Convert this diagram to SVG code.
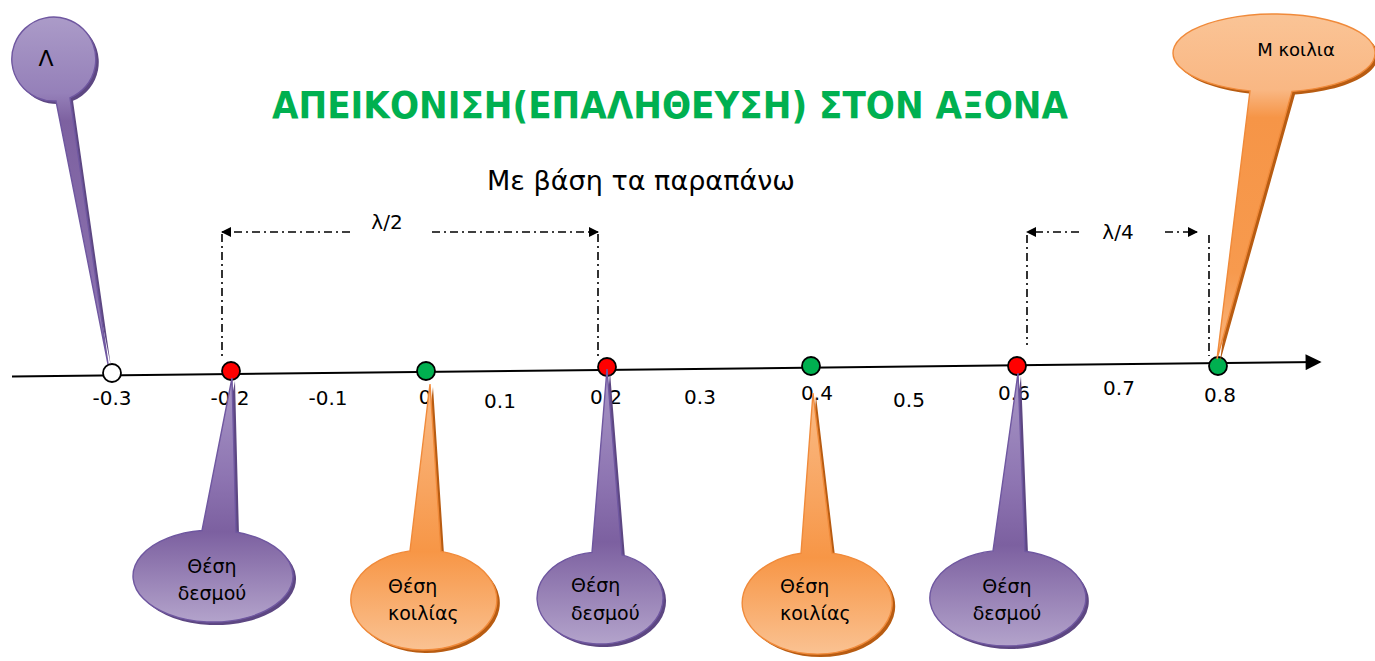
<svg xmlns="http://www.w3.org/2000/svg" width="1375" height="661" viewBox="0 0 1375 661">
<defs>
<style>
text{font-family:"DejaVu Sans","Liberation Sans",sans-serif;fill:#000}
.num{font-size:20px;text-anchor:middle}
.lbl{font-size:19px}
.mid{text-anchor:middle}
.dim{fill:none;stroke:#000;stroke-width:1.6;stroke-dasharray:8 4 2 4}
.axis{fill:none;stroke:#000;stroke-width:2}
.dot{stroke:#000;stroke-width:1.8}
.pshadow{fill:#5d4782}
.oshadow{fill:#b85c12}
.pur{fill:url(#gPur);stroke:#6f57a0;stroke-width:1.4}
.ora{fill:url(#gOra);stroke:#f08a3a;stroke-width:1.4}
</style>
<linearGradient id="gPur" x1="0" y1="0" x2="0" y2="1">
<stop offset="0" stop-color="#a897c6"/>
<stop offset="0.4" stop-color="#8e75b2"/>
<stop offset="0.63" stop-color="#7c60a0"/>
<stop offset="1" stop-color="#b3a3cb"/>
</linearGradient>
<linearGradient id="gOra" x1="0" y1="0" x2="0" y2="1">
<stop offset="0" stop-color="#fabb86"/>
<stop offset="0.4" stop-color="#f8a45f"/>
<stop offset="0.63" stop-color="#f79646"/>
<stop offset="1" stop-color="#fac292"/>
</linearGradient>
<linearGradient id="gLam" x1="0" y1="0" x2="0" y2="1">
<stop offset="0" stop-color="#ab9bc8"/>
<stop offset="0.22" stop-color="#9580b9"/>
<stop offset="0.3" stop-color="#7d61a0"/>
<stop offset="0.8" stop-color="#8a70ae"/>
<stop offset="1" stop-color="#b0a0c9"/>
</linearGradient>
<linearGradient id="gM" x1="0" y1="0" x2="0" y2="1">
<stop offset="0" stop-color="#fac496"/>
<stop offset="0.22" stop-color="#f9b783"/>
<stop offset="0.3" stop-color="#f69547"/>
<stop offset="0.75" stop-color="#f79a4e"/>
<stop offset="1" stop-color="#fab882"/>
</linearGradient>
<marker id="ah" viewBox="0 0 10 10" refX="9" refY="5" markerWidth="10" markerHeight="10" markerUnits="userSpaceOnUse" orient="auto-start-reverse">
<path d="M0,0 L10,5 L0,10 Z" fill="#000"/>
</marker>
<marker id="axh" viewBox="0 0 10 10" refX="9" refY="5" markerWidth="18" markerHeight="16" markerUnits="userSpaceOnUse" orient="auto">
<path d="M0,0 L10,5 L0,10 Z" fill="#000"/>
</marker>
</defs>

<g id="title">
<text x="670" y="118" font-size="38" font-weight="bold" style="fill:#00b050" text-anchor="middle" textLength="796" lengthAdjust="spacingAndGlyphs">ΑΠΕΙΚΟΝΙΣΗ(ΕΠΑΛΗΘΕΥΣΗ) ΣΤΟΝ ΑΞΟΝΑ</text>
<text x="641" y="190" font-size="26" text-anchor="middle" textLength="308" lengthAdjust="spacingAndGlyphs">Με βάση τα παραπάνω</text>
</g>

<g id="connectors">
<line class="axis" x1="12" y1="376.5" x2="1320" y2="362" marker-end="url(#axh)"/>
<line class="dim" x1="350" y1="232" x2="222" y2="232" marker-end="url(#ah)"/>
<line class="dim" x1="432" y1="232" x2="598" y2="232" marker-end="url(#ah)"/>
<line class="dim" x1="222" y1="234" x2="222" y2="360"/>
<line class="dim" x1="598" y1="234" x2="598" y2="358"/>
<text class="mid" x="387" y="229" font-size="20">λ/2</text>
<line class="dim" x1="1079" y1="232" x2="1027" y2="232" marker-end="url(#ah)"/>
<line class="dim" x1="1165" y1="232" x2="1197" y2="232" marker-end="url(#ah)"/>
<line class="dim" x1="1027" y1="235" x2="1027" y2="345"/>
<line class="dim" x1="1209" y1="235" x2="1209" y2="356"/>
<text class="mid" x="1118" y="239" font-size="20">λ/4</text>
</g>

<g id="ticks">
<text class="num" x="112" y="405">-0.3</text>
<text class="num" x="230" y="405">-0.2</text>
<text class="num" x="328" y="405">-0.1</text>
<text class="num" x="425" y="404">0</text>
<text class="num" x="500" y="408">0.1</text>
<text class="num" x="606" y="404">0.2</text>
<text class="num" x="700" y="404">0.3</text>
<text class="num" x="817" y="400">0.4</text>
<text class="num" x="909" y="407">0.5</text>
<text class="num" x="1014" y="400">0.6</text>
<text class="num" x="1119" y="395">0.7</text>
<text class="num" x="1220" y="402">0.8</text>
</g>

<g id="points">
<circle class="dot" cx="112" cy="373" r="9" fill="#fff"/>
<circle class="dot" cx="231" cy="371" r="9" fill="#ff0000"/>
<circle class="dot" cx="426" cy="371" r="9" fill="#00b050"/>
<circle class="dot" cx="607" cy="367" r="9" fill="#ff0000"/>
<circle class="dot" cx="811" cy="366" r="9" fill="#00b050"/>
<circle class="dot" cx="1017" cy="366" r="9" fill="#ff0000"/>
<circle class="dot" cx="1218" cy="366" r="9" fill="#00b050"/>
</g>

<g id="callout-L">
<path class="pshadow" transform="translate(3,3)" d="M56,101 A42 42 0 1 1 70,97.8 L108,364 Z"/>
<path style="fill:url(#gLam);stroke:#6f57a0;stroke-width:1.4" d="M56,101 A42 42 0 1 1 70,97.8 L108,364 Z"/>
<text x="46" y="66" font-size="22" text-anchor="middle">Λ</text>
</g>

<g id="callout-M">
<path class="oshadow" transform="translate(3,3)" d="M1250,90.9 A101 39 0 1 1 1292,91.4 L1217,359 Z"/>
<path style="fill:url(#gM);stroke:#f08a3a;stroke-width:1.4" d="M1250,90.9 A101 39 0 1 1 1292,91.4 L1217,359 Z"/>
<text x="1296" y="56" font-size="18" text-anchor="middle">Μ κοιλια</text>
</g>

<g id="callout-d1">
<path class="pshadow" transform="translate(3,3)" d="M202,530.5 L232,378 L236,532 A80 46 0 1 1 202,530.5 Z"/>
<path class="pur" d="M202,530.5 L232,378 L236,532 A80 46 0 1 1 202,530.5 Z"/>
<text class="lbl mid" x="212" y="573">Θέση</text>
<text class="lbl mid" x="212" y="600">δεσμού</text>
</g>

<g id="callout-k1">
<path class="oshadow" transform="translate(3,3)" d="M410,550.9 L430,384 L441,551.4 A73 50 0 1 1 410,550.9 Z"/>
<path class="ora" d="M410,550.9 L430,384 L441,551.4 A73 50 0 1 1 410,550.9 Z"/>
<text class="lbl" x="388" y="593">Θέση</text>
<text class="lbl" x="388" y="620">κοιλίας</text>
</g>

<g id="callout-d2">
<path class="pshadow" transform="translate(3,3)" d="M592,552.4 L607,369 L622,554.9 A63 46 0 1 1 592,552.4 Z"/>
<path class="pur" d="M592,552.4 L607,369 L622,554.9 A63 46 0 1 1 592,552.4 Z"/>
<text class="lbl" x="571" y="592">Θέση</text>
<text class="lbl" x="571" y="620">δεσμού</text>
</g>

<g id="callout-k2">
<path class="oshadow" transform="translate(3,3)" d="M801,553.3 L813,393 L832,553.1 A75 51 0 1 1 801,553.3 Z"/>
<path class="ora" d="M801,553.3 L813,393 L832,553.1 A75 51 0 1 1 801,553.3 Z"/>
<text class="lbl" x="780" y="593">Θέση</text>
<text class="lbl" x="780" y="620">κοιλίας</text>
</g>

<g id="callout-d3">
<path class="pshadow" transform="translate(3,3)" d="M993,550.9 L1018,373 L1025,551.2 A78 48 0 1 1 993,550.9 Z"/>
<path class="pur" d="M993,550.9 L1018,373 L1025,551.2 A78 48 0 1 1 993,550.9 Z"/>
<text class="lbl mid" x="1007" y="593">Θέση</text>
<text class="lbl mid" x="1007" y="620">δεσμού</text>
</g>
</svg>
